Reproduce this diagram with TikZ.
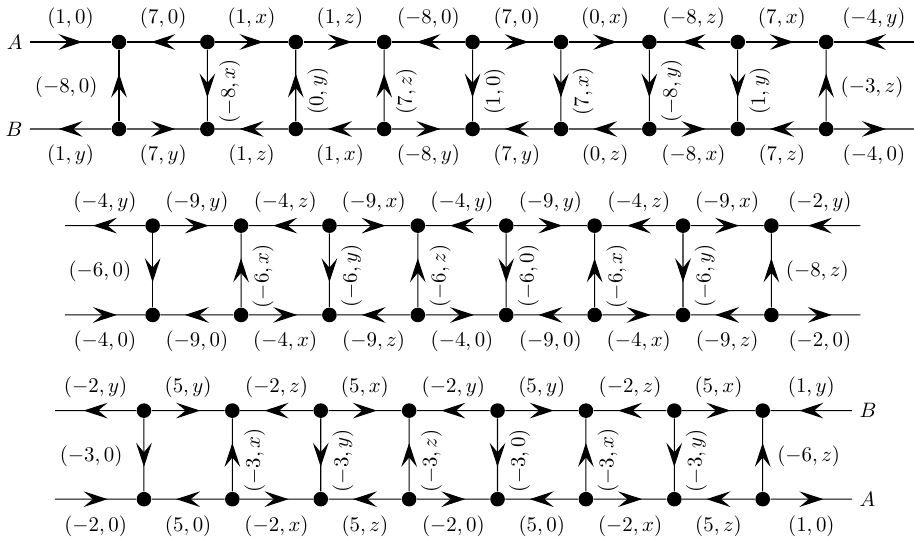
\documentclass[tikz,border=0pt]{standalone}
\usetikzlibrary{arrows.meta,decorations.markings}

\tikzset{
  dot/.style={circle, fill, inner sep=0pt, minimum size=7pt},
  fwd/.style={postaction={decorate}, decoration={markings,
    mark=at position .5 with {\arrow[xshift=5.75pt]{Stealth[length=11.5pt, width=7.5pt, inset=4.5pt]}}}},
  rev/.style={postaction={decorate}, decoration={markings,
    mark=at position .5 with {\arrowreversed[xshift=-5.75pt]{Stealth[length=11.5pt, width=7.5pt, inset=4.5pt]}}}},
  vlab/.style={rotate=90, anchor=north, inner sep=5.4pt, pos=.42},
  llab/.style={left=6.7pt, pos=.48},
  rlab/.style={right=3.4pt, pos=.48},
}

\begin{document}
\begin{tikzpicture}[scale=.92, line width=.5pt]
\useasboundingbox (0,0) rectangle (16.73,-9.864);

% first ladder
\foreach \k in {0,...,8} {
  \node[dot] (a\k) at ({2.178+1.618*\k}, -0.769) {};
  \node[dot] (b\k) at ({2.178+1.618*\k}, -2.361) {};
}
\coordinate[label=left:$A$] (aL) at (0.549,-0.769);
\coordinate[label=left:$B$] (bL) at (0.549,-2.361);
\coordinate (aR) at (16.73,-0.769);
\coordinate (bR) at (16.73,-2.361);

\foreach \u/\v/\s/\l in {aL/a0/fwd/{(1,0)}, a0/a1/rev/{(7,0)}, a1/a2/fwd/{(1,x)},
    a2/a3/fwd/{(1,z)}, a3/a4/rev/{(-8,0)}, a4/a5/fwd/{(7,0)}, a5/a6/fwd/{(0,x)},
    a6/a7/rev/{(-8,z)}, a7/a8/fwd/{(7,x)}, a8/aR/rev/{(-4,y)}}
  \draw[\s] (\u) -- node[above=2.6pt] {$\l$} (\v);
\foreach \u/\v/\s/\l in {bL/b0/rev/{(1,y)}, b0/b1/fwd/{(7,y)}, b1/b2/rev/{(1,z)},
    b2/b3/rev/{(1,x)}, b3/b4/fwd/{(-8,y)}, b4/b5/rev/{(7,y)}, b5/b6/rev/{(0,z)},
    b6/b7/fwd/{(-8,x)}, b7/b8/rev/{(7,z)}, b8/bR/fwd/{(-4,0)}}
  \draw[\s] (\u) -- node[below=4.2pt] {$\l$} (\v);
\draw[fwd] (b0) -- node[llab] {$(-8,0)$} (a0);
\foreach \k/\s/\l in {1/rev/{(-8,x)}, 2/fwd/{(0,y)}, 3/fwd/{(7,z)}, 4/rev/{(1,0)},
    5/rev/{(7,x)}, 6/rev/{(-8,y)}, 7/rev/{(1,y)}}
  \draw[\s] (b\k) -- node[vlab] {$\l$} (a\k);
\draw[fwd] (b8) -- node[rlab] {$(-3,z)$} (a8);

% second ladder
\foreach \k in {0,...,7} {
  \node[dot] (c\k) at ({2.794+1.618*\k}, -4.130) {};
  \node[dot] (d\k) at ({2.794+1.618*\k}, -5.765) {};
}
\coordinate (cL) at (1.19,-4.130);
\coordinate (dL) at (1.19,-5.765);
\coordinate (cR) at (15.75,-4.130);
\coordinate (dR) at (15.75,-5.765);

\foreach \u/\v/\s/\l in {cL/c0/rev/{(-4,y)}, c0/c1/fwd/{(-9,y)}, c1/c2/rev/{(-4,z)},
    c2/c3/fwd/{(-9,x)}, c3/c4/rev/{(-4,y)}, c4/c5/fwd/{(-9,y)}, c5/c6/rev/{(-4,z)},
    c6/c7/fwd/{(-9,x)}, c7/cR/rev/{(-2,y)}}
  \draw[\s] (\u) -- node[above=2.6pt] {$\l$} (\v);
\foreach \u/\v/\s/\l in {dL/d0/fwd/{(-4,0)}, d0/d1/rev/{(-9,0)}, d1/d2/fwd/{(-4,x)},
    d2/d3/rev/{(-9,z)}, d3/d4/fwd/{(-4,0)}, d4/d5/rev/{(-9,0)}, d5/d6/fwd/{(-4,x)},
    d6/d7/rev/{(-9,z)}, d7/dR/fwd/{(-2,0)}}
  \draw[\s] (\u) -- node[below=4.2pt] {$\l$} (\v);
\draw[rev] (d0) -- node[llab] {$(-6,0)$} (c0);
\foreach \k/\s/\l in {1/fwd/{(-6,x)}, 2/rev/{(-6,y)}, 3/fwd/{(-6,z)}, 4/rev/{(-6,0)},
    5/fwd/{(-6,x)}, 6/rev/{(-6,y)}}
  \draw[\s] (d\k) -- node[vlab] {$\l$} (c\k);
\draw[fwd] (d7) -- node[rlab] {$(-8,z)$} (c7);

% third ladder
\foreach \k in {0,...,7} {
  \node[dot] (e\k) at ({2.635+1.618*\k}, -7.516) {};
  \node[dot] (f\k) at ({2.635+1.618*\k}, -9.137) {};
}
\coordinate (eL) at (1.007,-7.516);
\coordinate (fL) at (1.007,-9.137);
\coordinate[label=right:$B$] (eR) at (15.60,-7.516);
\coordinate[label=right:$A$] (fR) at (15.60,-9.137);

\foreach \u/\v/\s/\l in {eL/e0/rev/{(-2,y)}, e0/e1/fwd/{(5,y)}, e1/e2/rev/{(-2,z)},
    e2/e3/fwd/{(5,x)}, e3/e4/rev/{(-2,y)}, e4/e5/fwd/{(5,y)}, e5/e6/rev/{(-2,z)},
    e6/e7/fwd/{(5,x)}, e7/eR/rev/{(1,y)}}
  \draw[\s] (\u) -- node[above=2.6pt] {$\l$} (\v);
\foreach \u/\v/\s/\l in {fL/f0/fwd/{(-2,0)}, f0/f1/rev/{(5,0)}, f1/f2/fwd/{(-2,x)},
    f2/f3/rev/{(5,z)}, f3/f4/fwd/{(-2,0)}, f4/f5/rev/{(5,0)}, f5/f6/fwd/{(-2,x)},
    f6/f7/rev/{(5,z)}, f7/fR/fwd/{(1,0)}}
  \draw[\s] (\u) -- node[below=4.2pt] {$\l$} (\v);
\draw[rev] (f0) -- node[llab] {$(-3,0)$} (e0);
\foreach \k/\s/\l in {1/fwd/{(-3,x)}, 2/rev/{(-3,y)}, 3/fwd/{(-3,z)}, 4/rev/{(-3,0)},
    5/fwd/{(-3,x)}, 6/rev/{(-3,y)}}
  \draw[\s] (f\k) -- node[vlab] {$\l$} (e\k);
\draw[fwd] (f7) -- node[rlab] {$(-6,z)$} (e7);
\end{tikzpicture}
\end{document}
